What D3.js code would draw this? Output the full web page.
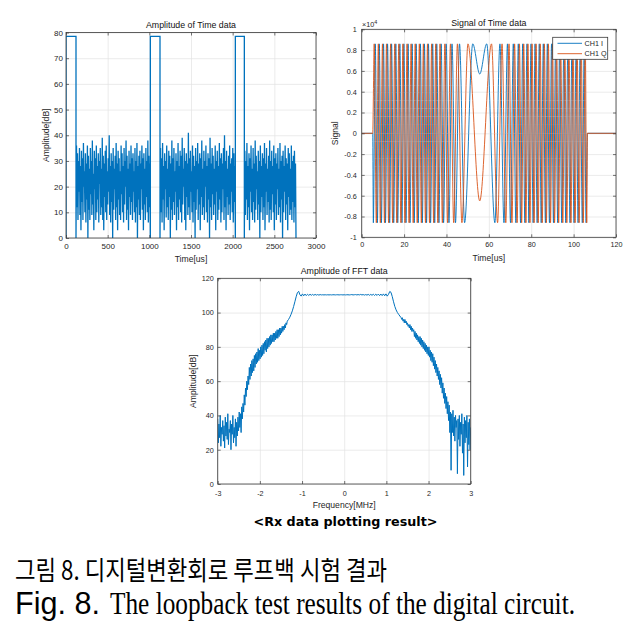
<!DOCTYPE html>
<html><head><meta charset="utf-8">
<script src="https://cdn.jsdelivr.net/npm/d3@7"></script>
<style>body{margin:0;background:#fff;} svg{display:block;}</style>
</head><body>
<svg id="c" width="635" height="631"></svg>
<script>
// ---------------- DATA ----------------
// Panel 1: Amplitude of Time data
const p1XTicks = [0, 500, 1000, 1500, 2000, 2500, 3000];
const p1YTicks = [0, 10, 20, 30, 40, 50, 60, 70, 80];
const pulseStart = [0, 1012, 2032];
const pulseEnd = [120, 1128, 2140];
const noiseEnd = [1012, 2032, 2760];
const pulseLevel = 78.5;
const noise1 = [0,36,12,33,7,30,18,35,9,28,3,34,14,31,7,37,20,26,10,33,6,29,15,36,0,32,11,27,7,35,17,30,9,38,13,25,3,34,19,31,7,36,10,28,15,33,6,30,21,35,9,27,12,39,7,32,3,29,16,34,10,36,7,26,13,31,18,40,9,28,6,33,14,30,0,35,11,27,19,32,7,37,12,29,3,34,15,31,9,26,7,36,17,33,10,28,6,35,13,30,20,38,7,32,11,27,3,34,16,29,9,36,14,31,7,33,18,26,10,35,6,30,12,37,0,28,15,32,9,34,7,29,19,36,11,31,3,33,13,27,7,35,16,30,10,38,6,32,12,29,0];
const noise2 = [0,35,10,31,6,37,15,28,3,33,19,30,8,36,12,27,7,34,16,32,0,29,11,38,7,31,14,35,9,26,18,33,3,30,12,37,7,28,15,34,10,32,6,39,13,27,20,35,7,30,3,33,16,29,9,41,12,31,7,34,18,26,10,36,6,32,14,28,0,35,11,30,19,37,7,29,13,33,3,31,16,38,9,27,12,34,7,30,20,36,10,28,6,33,15,31,0,39,12,29,7,35,17,32,9,27,13,36,3,30,18,34,7,28,11,37,15,31,6,33,10,29,19,35,7,40,12,30,3,34,16,27,9,32,13,36,7,29,18,31,10,35,6,33,14,28,0];
const noise3 = [0,34,9,30,15,37,7,28,12,33,3,31,18,36,10,27,7,35,14,29,6,38,11,32,19,26,7,34,13,30,0,36,10,28,16,33,7,31,12,37,3,29,18,35,9,27,14,32,6,38,11,30,7,34,17,28,10,36,3,31,13,33,7,29,19,35,9,27,12,37,6,30,15,32,0,34,10,28,18,36,7,31,13,29,3,35,16,33,9,27,11,36,7,30,14,32,6,34,12,29,0];

// Panel 2: Signal of Time data (extrema times in us, amplitude in raw units)
const p2XTicks = [0, 20, 40, 60, 80, 100, 120];
const p2YTicks = [-10000,-8000,-6000,-4000,-2000,0,2000,4000,6000,8000,10000];
const chirpAmp = 8600;
const sigStart = 5.2, sigEnd = 106.5;
const iLeftT = [5.5,6.4,7.4,8.3,9.3,10.3,11.2,12.2,13.2,14.1,15.1,16.1,17.0,18.0,19.0,19.9,20.9,21.9,22.8,23.8,24.8,25.7,26.7,27.7,28.6,29.6,30.6,31.5,32.5,33.5,34.45,35.42,36.44,37.5,38.64,39.86,41.17,42.62,44.26,46.16,48.56,52.4]; // first is a minimum
const iMid = [55.7, 5700];
const iRightT = [59.0,62.84,65.24,67.14,68.78,70.23,71.54,72.76,73.9,74.96,75.98,77.0,78.0,78.9,79.9,80.9,81.8,82.8,83.8,84.7,85.7,86.7,87.6,88.6,89.6,90.5,91.5,92.5,93.4,94.4,95.4,96.3,97.3,98.3,99.2,100.2,101.2,102.1,103.1,104.1,105.0,105.9]; // first is a maximum
const qLeftT = [5.9,6.9,7.85,8.8,9.8,10.75,11.7,12.7,13.65,14.6,15.6,16.55,17.5,18.5,19.45,20.4,21.4,22.35,23.3,24.3,25.25,26.2,27.2,28.15,29.1,30.1,31.05,32.0,33.0,33.95,34.94,35.92,36.96,38.06,39.24,40.5,41.88,43.41,45.17,47.28,50.14]; // first is a maximum
const qMid = [55.7, -6500];
const qRightT = [61.26,64.12,66.23,68.0,69.52,70.9,72.16,73.34,74.44,75.48,76.46,77.5,78.45,79.4,80.4,81.35,82.3,83.3,84.25,85.2,86.2,87.15,88.1,89.1,90.05,91.0,92.0,92.95,93.9,94.9,95.85,96.8,97.8,98.75,99.7,100.7,101.65,102.6,103.6,104.55,105.5,106.2]; // first is a maximum
const legendNames = ["CH1 I", "CH1 Q"];

// Panel 3: Amplitude of FFT data
const p3XTicks = [-3, -2, -1, 0, 1, 2, 3];
const p3YTicks = [0, 20, 40, 60, 80, 100, 120];
const specLeftRange = [-3.0, -1.35];
const specLeft = [38,24,35,27,40,22,33,29,37,25, 34,21,39,28,36,26,41,23,32,30, 37,20,35,29,40,24,33,27,38,22, 36,28,39,31,42,33,41,30,45,38, 47,42,52,46,56,51,60,55,63,58, 68,61,70,63,72,65,73,66,75,68, 76,70,77,71,79,72,78,73,80,74, 81,75,82,76,83,78,84,77,85,79, 85,80,86,81,87,82,87,83,88,83, 88,84,89,85,90,85,90,86,91,87, 91,88,92,89,92,90,93,91,94,93,95];
const specMidRange = [-1.32, 1.32];
const specMid = [96,97.3,99,101,103.5,106.3,109.2,111.6,112.4,110.4,109.6,110.9,109.8,110.8,109.9,110.7,110.0,110.7,110.1,110.6,110.1,110.6,110.2,110.5,110.2,110.5,110.3,110.4,110.3,110.4,110.3,110.4,110.3,110.4,110.3,110.4,110.4,110.3,110.4,110.4,110.3,110.4,110.4,110.3,110.4,
 110.3,110.4,110.4,110.3,110.4,110.5,110.3,110.4,110.5,110.3,110.5,110.3,110.6,110.3,110.5,110.2,110.5,110.2,110.6,110.1,110.6,110.1,110.7,110.0,110.7,110.0,110.8,109.9,110.8,109.9,110.9,109.8,110.9,109.6,110.6,112.3,111.8,109.3,106.3,103.6,101.6,100.1,99.0,98.0];
const specRightRange = [1.35, 3.0];
const specRight = [97,96,97,95,96,94,96,94,95,93, 94,92,93,91,93,90,92,89,91,89, 90,86,89,85,88,84,87,83,86,82, 86,81,85,80,84,79,83,78,82,77, 81,76,80,75,80,74,78,72,77,71, 76,69,74,67,72,65,70,63,68,61, 66,58,64,56,62,53,59,50,56,47, 53,44,51,41,48,37,46,30,42,8, 41,30,43,28,39,25,40,33,37,6, 38,26,40,22,36,29,41,18,35,5, 39,24,37,27,40,10,36,23,38,20,33];

// ---------------- DRAWING ----------------
const svg = d3.select('#c');
const FONT = "'Liberation Sans', Arial, Helvetica, sans-serif";
const BLUE = '#0072BD', ORANGE = '#D95319';
const AX = '#3a3a3a';

function panel(cfg){
  const g = svg.append('g');
  const x = d3.scaleLinear().domain(cfg.xd).range([cfg.l, cfg.r]);
  const y = d3.scaleLinear().domain(cfg.yd).range([cfg.b, cfg.t]);
  const h = cfg.b - cfg.t, w = cfg.r - cfg.l;
  const gx = g.append('g').attr('transform', `translate(0,${cfg.b})`)
    .call(d3.axisBottom(x).tickValues(cfg.xt).tickSize(-h).tickFormat(''));
  const gy = g.append('g').attr('transform', `translate(${cfg.l},0)`)
    .call(d3.axisLeft(y).tickValues(cfg.yt).tickSize(-w).tickFormat(''));
  [gx, gy].forEach(s => { s.select('.domain').remove(); s.selectAll('line').attr('stroke', '#e2e2e2').attr('stroke-width', 0.7); });
  const id = 'clip' + Math.round(cfg.l);
  svg.append('clipPath').attr('id', id).append('rect').attr('x', cfg.l).attr('y', cfg.t).attr('width', w).attr('height', h);
  const data = g.append('g').attr('clip-path', `url(#${id})`);
  return {g, x, y, data, cfg};
}

function decorate(p){
  const {g, x, y, cfg} = p;
  const ts = 3;
  const style = s => {
    s.select('.domain').remove();
    s.selectAll('line').attr('stroke', AX).attr('stroke-width', 0.7);
    s.selectAll('text').attr('fill', '#262626').style('font-family', FONT).style('font-size', cfg.tf + 'px');
  };
  g.append('g').attr('transform', `translate(0,${cfg.b})`)
    .call(d3.axisBottom(x).tickValues(cfg.xt).tickSize(-ts).tickPadding(cfg.padB).tickFormat(cfg.xfmt)).call(style);
  g.append('g').attr('transform', `translate(0,${cfg.t})`)
    .call(d3.axisTop(x).tickValues(cfg.xt).tickSize(-ts).tickFormat('')).call(style);
  g.append('g').attr('transform', `translate(${cfg.l},0)`)
    .call(d3.axisLeft(y).tickValues(cfg.yt).tickSize(-ts).tickPadding(cfg.padL).tickFormat(cfg.yfmt)).call(style);
  g.append('g').attr('transform', `translate(${cfg.r},0)`)
    .call(d3.axisRight(y).tickValues(cfg.yt).tickSize(-ts).tickFormat('')).call(style);
  g.append('rect').attr('x', cfg.l).attr('y', cfg.t).attr('width', cfg.r - cfg.l).attr('height', cfg.b - cfg.t)
    .attr('fill', 'none').attr('stroke', AX).attr('stroke-width', 0.8);
  const cx = (cfg.l + cfg.r) / 2;
  g.append('text').attr('x', cx).attr('y', cfg.titleY).attr('text-anchor', 'middle')
    .style('font-family', FONT).style('font-size', '8.8px').attr('fill', '#111').text(cfg.title);
  g.append('text').attr('x', cx).attr('y', cfg.xlabY).attr('text-anchor', 'middle')
    .style('font-family', FONT).style('font-size', '8.6px').attr('fill', '#262626').text(cfg.xlab);
  g.append('text').attr('transform', `translate(${cfg.ylabX},${(cfg.t + cfg.b) / 2}) rotate(-90)`)
    .attr('text-anchor', 'middle').style('font-family', FONT).style('font-size', '8.6px').attr('fill', '#262626').text(cfg.ylab);
}

const fmtPlain = d => String(d);

// ---- Panel 1 ----
const c1 = {l: 66, r: 316, t: 32.5, b: 238, xd: [0, 3000], yd: [0, 80], xt: p1XTicks, yt: p1YTicks,
  tf: 8, padB: 5, padL: 3, xfmt: fmtPlain, yfmt: fmtPlain,
  title: 'Amplitude of Time data', titleY: 28, xlab: 'Time[us]', xlabY: 262, ylab: 'Amplitude[dB]', ylabX: 48.5};
const p1 = panel(c1);
const noises = [noise1, noise2, noise3];
const s1 = [];
for (let k = 0; k < 3; k++) {
  s1.push([pulseStart[k], 0], [pulseStart[k], pulseLevel], [pulseEnd[k], pulseLevel]);
  const n = noises[k], dt = (noiseEnd[k] - pulseEnd[k]) / (n.length - 1);
  n.forEach((v, i) => s1.push([pulseEnd[k] + i * dt, v]));
}
p1.data.append('path').datum(s1).attr('fill', 'none').attr('stroke', BLUE).attr('stroke-width', 1.3)
  .attr('stroke-linejoin', 'miter').attr('stroke-miterlimit', 2)
  .attr('d', d3.line().x(d => p1.x(d[0])).y(d => p1.y(d[1])));
decorate(p1);

// ---- Panel 2 ----
const c2 = {l: 361.7, r: 616, t: 29.3, b: 237.3, xd: [0, 120], yd: [-10000, 10000], xt: p2XTicks, yt: p2YTicks,
  tf: 7.2, padB: 5, padL: 5, xfmt: fmtPlain, yfmt: d => String(+(d / 10000).toFixed(1)),
  title: 'Signal of Time data', titleY: 25.5, xlab: 'Time[us]', xlabY: 261, ylab: 'Signal', ylabX: 338};
const p2 = panel(c2);
function chirpSeries(leftT, leftFirstSign, mid, rightT, rightFirstSign){
  const s = [[0, 0], [sigStart, 0]];
  leftT.forEach((t, i) => s.push([t, (i % 2 === 0 ? leftFirstSign : -leftFirstSign) * chirpAmp]));
  s.push(mid);
  rightT.forEach((t, i) => s.push([t, (i % 2 === 0 ? rightFirstSign : -rightFirstSign) * chirpAmp]));
  s.push([sigEnd, 0], [120, 0]);
  return s;
}
const sI = chirpSeries(iLeftT, -1, iMid, iRightT, 1);
const sQ = chirpSeries(qLeftT, 1, qMid, qRightT, 1);
const line2 = d3.line().x(d => p2.x(d[0])).y(d => p2.y(d[1])).curve(d3.curveMonotoneX);
p2.data.append('path').datum(sI).attr('fill', 'none').attr('stroke', BLUE).attr('stroke-width', 0.9).attr('d', line2);
p2.data.append('path').datum(sQ).attr('fill', 'none').attr('stroke', ORANGE).attr('stroke-width', 0.9).attr('d', line2);
decorate(p2);
// exponent label
const ex = p2.g.append('text').attr('x', 362).attr('y', 27).style('font-family', FONT).style('font-size', '7.2px').attr('fill', '#262626');
ex.append('tspan').text('\u00d710');
ex.append('tspan').attr('dy', -3).style('font-size', '5.4px').text('4');
// legend
const lg = p2.g.append('g');
lg.append('rect').attr('x', 552.7).attr('y', 37.3).attr('width', 55).attr('height', 22).attr('fill', '#fff').attr('stroke', AX).attr('stroke-width', 0.8);
[BLUE, ORANGE].forEach((col, i) => {
  const yy = 43.3 + i * 10.4;
  lg.append('line').attr('x1', 557.5).attr('x2', 582).attr('y1', yy).attr('y2', yy).attr('stroke', col).attr('stroke-width', 0.9);
  lg.append('text').attr('x', 584.5).attr('y', yy + 2.5).style('font-family', FONT).style('font-size', '7.2px').attr('fill', '#262626').text(legendNames[i]);
});

// ---- Panel 3 ----
const c3 = {l: 217.7, r: 470.7, t: 278.3, b: 484, xd: [-3, 3], yd: [0, 120], xt: p3XTicks, yt: p3YTicks,
  tf: 7.2, padB: 7, padL: 4, xfmt: fmtPlain, yfmt: fmtPlain,
  title: 'Amplitude of FFT data', titleY: 274, xlab: 'Frequency[MHz]', xlabY: 508, ylab: 'Amplitude[dB]', ylabX: 196};
const p3 = panel(c3);
const s3 = [];
[[specLeft, specLeftRange], [specMid, specMidRange], [specRight, specRightRange]].forEach(([vals, rg]) => {
  const df = (rg[1] - rg[0]) / (vals.length - 1);
  vals.forEach((v, i) => s3.push([rg[0] + i * df, v]));
});
p3.data.append('path').datum(s3).attr('fill', 'none').attr('stroke', BLUE).attr('stroke-width', 1.0)
  .attr('stroke-linejoin', 'miter').attr('stroke-miterlimit', 2)
  .attr('d', d3.line().x(d => p3.x(d[0])).y(d => p3.y(d[1])));
decorate(p3);

// ---- Captions ----
svg.append('text').attr('x', 345.5).attr('y', 526).attr('text-anchor', 'middle')
  .attr('textLength', 184).attr('lengthAdjust', 'spacingAndGlyphs')
  .style('font-family', "'DejaVu Sans', sans-serif").style('font-weight', 'bold').style('font-size', '13px').attr('fill', '#000')
  .text('<Rx data plotting result>');
svg.append('text').attr('transform', 'translate(15,580) scale(1,1.3)').attr('x', 0).attr('y', 0)
  .attr('textLength', 372).attr('lengthAdjust', 'spacingAndGlyphs')
  .style('font-family', "'Noto Sans CJK KR', sans-serif").style('font-size', '20.5px').attr('fill', '#000')
  .text('그림 8. 디지털변환회로 루프백 시험 결과');
svg.append('text').attr('x', 15).attr('y', 614).attr('textLength', 85).attr('lengthAdjust', 'spacingAndGlyphs')
  .style('font-family', "'Liberation Sans', Arial, sans-serif").style('font-size', '31px').attr('fill', '#000')
  .text('Fig. 8.');
svg.append('text').attr('transform', 'translate(110,614) scale(1,1.265)').attr('x', 0).attr('y', 0)
  .attr('textLength', 465).attr('lengthAdjust', 'spacingAndGlyphs')
  .style('font-family', "'Liberation Serif', 'Times New Roman', serif").style('font-size', '25.3px').attr('fill', '#000')
  .text('The loopback test results of the digital circuit.');
</script>
</body></html>
